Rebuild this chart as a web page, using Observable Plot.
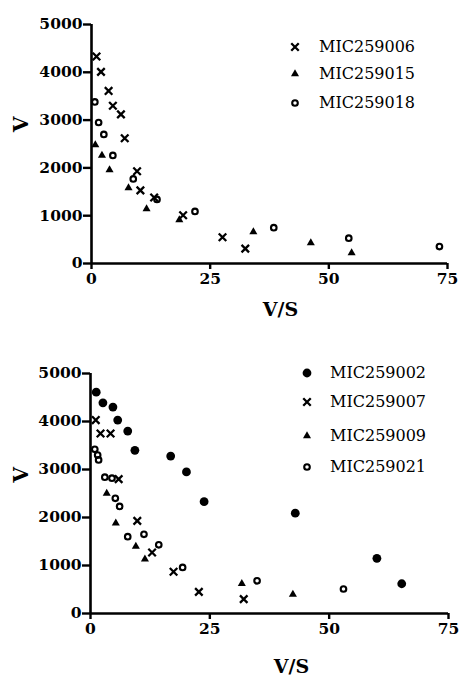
<!DOCTYPE html>
<html>
<head>
<meta charset="utf-8">
<script src="https://cdn.jsdelivr.net/npm/d3@7"></script>
<script src="https://cdn.jsdelivr.net/npm/@observablehq/plot@0.6"></script>
<style>
  body { margin: 0; background: #fff; }
  #wrap { position: relative; width: 459px; height: 680px; background: #fff; }
  #wrap svg.plot { display: block; }
  .lg-sym { position: absolute; width: 14px; height: 14px; transform: translate(-50%, -50%); overflow: visible; }
  .lg-txt { position: absolute; transform: translateY(-50%); font-family: "DejaVu Serif", serif; font-size: 16px; color: #000; white-space: nowrap; line-height: 1; }
</style>
</head>
<body>
<div id="wrap"></div>
<script>
// ---- axis ticks ----
const xTicks = [0, 25, 50, 75];
const yTicks = [0, 1000, 2000, 3000, 4000, 5000];

// ---- top panel series: [V/S, V] ----
const topNames = ["MIC259006", "MIC259015", "MIC259018"];
const topKinds = ["times", "triangle", "circle"];
const mic259006 = [[1.05,4330],[2.0,4010],[3.6,3610],[4.5,3300],[6.2,3120],[7.0,2620],[9.6,1930],[10.3,1530],[13.2,1380],[19.3,1010],[27.6,550],[32.4,310]];
const mic259015 = [[0.8,2480],[2.2,2260],[3.8,1960],[7.8,1580],[11.6,1140],[18.5,910],[34.1,660],[46.2,430],[54.8,220]];
const mic259018 = [[0.7,3380],[1.5,2950],[2.6,2700],[4.5,2260],[8.8,1770],[13.8,1340],[21.8,1090],[38.4,750],[54.2,530],[73.3,355]];

// ---- bottom panel series: [V/S, V] ----
const bottomNames = ["MIC259002", "MIC259007", "MIC259009", "MIC259021"];
const bottomKinds = ["disc", "times", "triangle", "circle"];
const mic259002 = [[1.2,4610],[2.6,4390],[4.7,4300],[5.7,4030],[7.8,3800],[9.3,3400],[16.8,3280],[20.1,2950],[23.8,2330],[42.9,2090],[60.0,1150],[65.2,620]];
const mic259007 = [[1.1,4030],[2.1,3750],[4.2,3750],[5.9,2800],[9.8,1930],[12.9,1270],[17.4,870],[22.7,450],[32.1,300]];
const mic259009 = [[3.4,2500],[5.3,1880],[9.5,1400],[11.4,1130],[31.7,620],[42.4,400]];
const mic259021 = [[0.9,3420],[1.5,3300],[1.7,3200],[3.0,2840],[4.5,2820],[5.2,2400],[6.1,2230],[7.8,1600],[11.2,1650],[14.3,1430],[19.3,960],[34.9,680],[53.0,510]];

const topData = [mic259006, mic259015, mic259018];
const bottomData = [mic259002, mic259007, mic259009, mic259021];

const wrap = document.getElementById("wrap");
const serif = "'DejaVu Serif', serif";

const symStyle = {
  times:    {symbol: "times", r: 3.5, fill: "none", stroke: "#000", strokeWidth: 2.3},
  triangle: {symbol: "triangle", r: 3.0, fill: "#000", stroke: "none"},
  circle:   {symbol: "circle", r: 2.8, fill: "none", stroke: "#000", strokeWidth: 2.1},
  disc:     {symbol: "circle", r: 4.4, fill: "#000", stroke: "none"}
};

function dots(data, kind) {
  return Plot.dot(data, {x: d => d[0], y: d => d[1], ...symStyle[kind]});
}

function panel(o, datasets, kinds) {
  return Plot.plot({
    width: 459, height: o.height,
    marginTop: o.mt, marginBottom: o.mb, marginLeft: o.ml, marginRight: o.mr,
    style: {fontFamily: serif, fontSize: "15.5px", fontWeight: "bold", color: "#000", background: "#fff", overflow: "visible"},
    x: {domain: [0, 75]},
    y: {domain: [0, 5000]},
    marks: [
      Plot.axisX({ticks: xTicks, tickSize: 6, tickPadding: 3, strokeWidth: 2.4, label: null, tickFormat: d => String(d)}),
      Plot.axisY({ticks: yTicks, tickSize: 8, tickPadding: 1, strokeWidth: 2.4, label: null, tickFormat: d => String(d)}),
      Plot.ruleX([0], {y1: 0, y2: 5000, strokeWidth: 2.6}),
      Plot.ruleY([0], {x1: 0, x2: 75, strokeWidth: 2.6}),
      ...datasets.map((d, i) => dots(d, kinds[i])),
      Plot.text(["V"], {frameAnchor: "left", dx: o.vdx, dy: o.vdy, rotate: -90, fontSize: 20, fontWeight: "bold", fontFamily: serif}),
      Plot.text(["V/S"], {frameAnchor: "bottom", dx: o.sdx, dy: o.sdy, fontSize: 19, fontWeight: "bold", fontFamily: serif})
    ]
  });
}

wrap.appendChild(panel({height: 335, mt: 24, mb: 72, ml: 91, mr: 12, vdx: -70, vdy: -12, sdx: 11, sdy: 52}, topData, topKinds));
wrap.appendChild(panel({height: 345, mt: 38, mb: 67, ml: 90, mr: 11, vdx: -69, vdy: -11, sdx: 22, sdy: 59}, bottomData, bottomKinds));

function symbolPath(kind) {
  const s = symStyle[kind];
  const type = s.symbol === "times" ? d3.symbolTimes : s.symbol === "triangle" ? d3.symbolTriangle : d3.symbolCircle;
  return d3.symbol(type, Math.PI * s.r * s.r)();
}

function legend(names, kinds, symX, txtX, rowsY) {
  names.forEach((name, i) => {
    const s = symStyle[kinds[i]];
    const svg = d3.create("svg").attr("class", "lg-sym").attr("viewBox", "-7 -7 14 14")
      .style("left", symX + "px").style("top", rowsY[i] + "px");
    svg.append("path").attr("d", symbolPath(kinds[i]))
      .attr("fill", s.fill).attr("stroke", s.stroke).attr("stroke-width", s.strokeWidth || 0);
    wrap.appendChild(svg.node());
    const t = document.createElement("div");
    t.className = "lg-txt";
    t.style.left = txtX + "px";
    t.style.top = rowsY[i] + "px";
    t.textContent = name;
    wrap.appendChild(t);
  });
}

legend(topNames, topKinds, 295, 319, [47, 74, 103]);
legend(bottomNames, bottomKinds, 307, 330, [373, 402, 436, 467]);
</script>
</body>
</html>
